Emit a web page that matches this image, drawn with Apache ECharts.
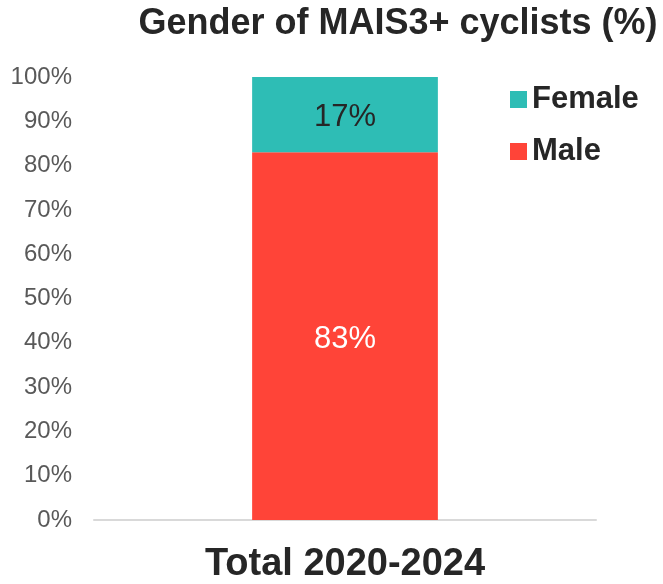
<!DOCTYPE html>
<html>
<head>
<meta charset="utf-8">
<script src="https://cdn.jsdelivr.net/npm/echarts@6/dist/echarts.min.js"></script>
<style>
  html, body { margin: 0; padding: 0; background: #fff; }
  #chart { width: 663px; height: 584px; }
</style>
</head>
<body>
<div id="chart"></div>
<script>
const categories = ["Total 2020-2024"];
const maleValues = [83];
const femaleValues = [17];
const yTicks = [0, 10, 20, 30, 40, 50, 60, 70, 80, 90, 100];

const myChart = echarts.init(document.getElementById("chart"));

const option = {
  animation: false,
  textStyle: { fontFamily: "Liberation Sans, Arial, sans-serif" },
  title: {
    text: "Gender of MAIS3+ cyclists (%)",
    left: 398,
    top: 6,
    textAlign: "center",
    padding: 0,
    textStyle: { fontSize: 36, fontWeight: "bold", color: "#262626" },
  },
  legend: {
    orient: "vertical",
    left: 510,
    top: 84,
    padding: 0,
    itemWidth: 17,
    itemHeight: 17,
    itemGap: 21,
    icon: "rect",
    data: ["Female", "Male"],
    textStyle: { fontSize: 31, fontWeight: "bold", color: "#262626" },
  },
  grid: { left: 94, right: 67, top: 77, bottom: 60 },
  xAxis: {
    type: "category",
    data: categories,
    axisLine: { lineStyle: { color: "#d9d9d9", width: 2 } },
    axisTick: { show: false },
    axisLabel: { fontSize: 38, fontWeight: "bold", color: "#262626", margin: 26 },
  },
  yAxis: {
    type: "value",
    min: yTicks[0],
    max: yTicks[yTicks.length - 1],
    interval: 10,
    splitLine: { show: false },
    axisLine: { show: false },
    axisTick: { show: false },
    axisLabel: { fontSize: 24, color: "#595959", margin: 22, formatter: "{value}%" },
  },
  series: [
    {
      name: "Male",
      type: "bar",
      stack: "total",
      barWidth: "37%",
      data: maleValues,
      itemStyle: { color: "#FF4438" },
      label: { show: true, position: "inside", offset: [0, 3], formatter: "{c}%", fontSize: 31, color: "#ffffff" },
    },
    {
      name: "Female",
      type: "bar",
      stack: "total",
      barWidth: "37%",
      data: femaleValues,
      itemStyle: { color: "#2EBDB5" },
      label: { show: true, position: "inside", offset: [0, 3], formatter: "{c}%", fontSize: 31, color: "#262626" },
    },
  ],
};

myChart.setOption(option);
</script>
</body>
</html>
